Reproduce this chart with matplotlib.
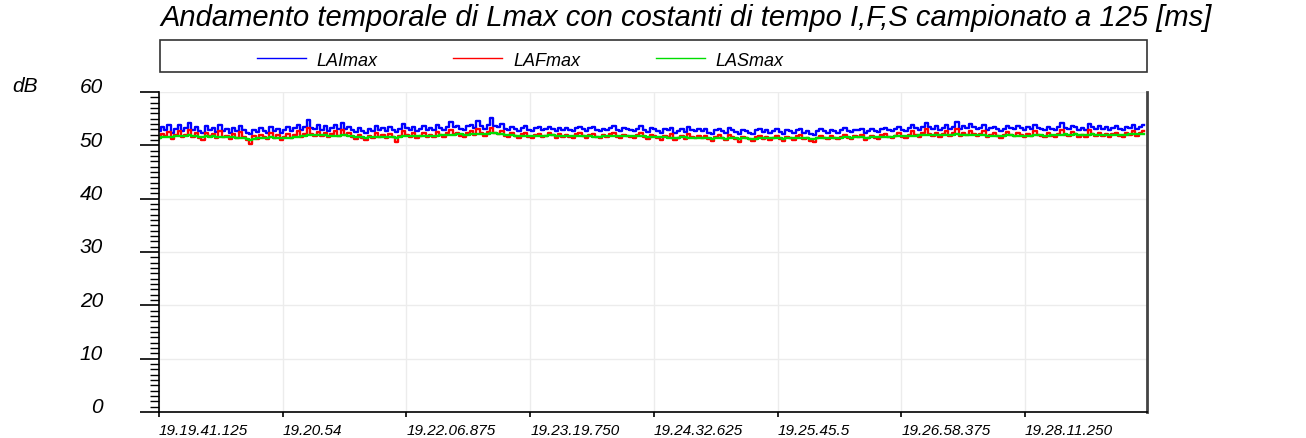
import numpy as np
import matplotlib as mpl
mpl.use('Agg')
import matplotlib.pyplot as plt
import matplotlib.transforms as mtransforms
from matplotlib.patches import Rectangle
from matplotlib.lines import Line2D

plt.rcParams['font.family'] = ['Liberation Sans', 'DejaVu Sans']

TITLE = 'Andamento temporale di Lmax con costanti di tempo I,F,S campionato a 125 [ms]'
series_names = ['LAImax', 'LAFmax', 'LASmax']
series_colors = ['#0000ff', '#ff0000', '#00dd00']

# sample step (s) of the values below
step_s = 2.0

lai_max = [
    52.6, 53.4, 52.9, 53.8, 52.4, 53.1, 53.9, 52.7, 53.2, 54.1, 52.8, 53.5, 52.6, 52.3, 53.6, 52.9, 53.3, 52.5, 53.8, 52.7,
    53.0, 52.4, 53.3, 52.6, 53.7, 52.8, 52.3, 52.1, 52.9, 52.5, 53.2, 52.7, 52.4, 53.5, 52.6, 53.1, 52.3, 52.8, 53.4, 52.6,
    53.2, 53.9, 52.8, 53.4, 54.7, 53.3, 53.0, 53.8, 52.9, 53.6, 52.7, 53.3, 53.9, 53.0, 54.2, 53.1, 53.5, 52.8, 52.5, 53.2,
    52.7, 52.3, 53.0, 52.6, 53.7, 52.9, 53.2, 52.6, 53.4, 52.8, 52.5, 53.1, 54.0, 53.2, 52.9, 53.5, 52.6, 53.0, 53.6, 52.8,
    53.3, 52.9, 53.9, 53.2, 52.8, 53.5, 54.3, 53.4, 53.7, 53.0, 52.9, 53.6, 53.9, 53.2, 54.5, 53.6, 53.1, 53.8, 55.1, 53.7,
    53.4, 54.0, 53.1, 52.8, 53.5, 53.0, 52.7, 53.3, 53.6, 52.9, 52.6, 53.2, 53.4, 52.8, 53.0, 53.5, 53.1, 52.7, 53.3, 52.9,
    53.2, 52.8, 52.6, 53.3, 53.5, 53.0, 52.7, 53.2, 53.4, 52.9, 52.6, 53.1, 52.8, 53.3, 53.6, 52.9, 52.7, 53.2, 53.0, 52.8,
    52.7, 53.1, 53.6, 52.9, 52.5, 53.2, 53.0, 52.6, 52.4, 53.1, 52.8, 53.3, 52.3, 52.7, 53.0, 52.5, 53.4, 52.8, 52.6, 53.0,
    52.7, 53.0, 52.4, 52.2, 52.8, 53.1, 52.6, 52.3, 53.2, 52.9, 52.5, 52.2, 52.9, 52.6, 52.4, 52.1, 52.8, 53.0, 52.5, 52.9,
    52.3, 52.7, 53.0, 52.5, 52.2, 52.8, 52.6, 52.3, 52.9, 53.1, 52.4, 52.7, 52.2, 52.0, 52.6, 53.0, 52.7, 52.4, 52.9, 52.6,
    52.4, 52.8, 53.2, 52.7, 52.5, 52.9, 52.8, 53.1, 52.3, 52.6, 53.0, 52.7, 52.5, 53.1, 53.3, 52.8, 52.6, 53.0, 53.5, 52.9,
    52.7, 53.2, 53.8, 53.3, 52.9, 53.5, 54.2, 53.4, 53.1, 53.6, 52.9, 53.3, 53.8, 53.1, 53.5, 54.3, 53.0, 53.6, 53.2, 54.0,
    53.5, 53.0, 53.3, 53.8, 52.9, 53.2, 53.5, 53.0, 52.7, 53.1, 53.7, 53.2, 53.0, 53.6, 53.3, 52.9, 53.4, 53.1, 53.8, 53.2,
    53.0, 52.8, 53.5, 53.1, 52.9, 53.4, 54.1, 53.3, 53.0, 53.7, 53.4, 52.9, 53.2, 52.8, 54.0, 53.5, 53.1, 53.6, 53.0, 53.4,
    52.9, 53.3, 53.6, 53.0, 52.8, 53.5, 53.2, 53.8, 53.1, 53.5, 53.9,
]
laf_max = [
    51.3, 52.1, 51.7, 52.5, 51.2, 51.9, 52.7, 51.5, 52.0, 52.9, 51.6, 52.3, 51.4, 51.0, 52.4, 51.7, 52.1, 51.3, 52.6, 51.5,
    51.8, 51.1, 52.2, 51.4, 52.5, 51.6, 51.0, 50.3, 51.7, 51.2, 52.0, 51.5, 51.1, 52.3, 51.3, 51.9, 51.0, 51.6, 52.2, 51.4,
    52.0, 52.6, 51.6, 52.2, 53.2, 52.1, 51.8, 52.5, 51.7, 52.4, 51.5, 52.1, 52.7, 51.8, 52.9, 51.9, 52.3, 51.5, 51.2, 51.9,
    51.4, 51.0, 51.8, 51.3, 52.4, 51.6, 52.0, 51.3, 52.2, 51.5, 50.6, 51.8, 52.6, 51.9, 51.6, 52.3, 51.3, 51.8, 52.4, 51.5,
    52.0, 51.6, 52.5, 51.9, 51.5, 52.3, 52.9, 52.1, 52.4, 51.7, 51.6, 52.3, 52.6, 51.9, 53.0, 52.3, 51.8, 52.5, 53.3, 52.4,
    52.1, 52.6, 51.8, 51.5, 52.3, 51.7, 51.4, 52.1, 52.4, 51.6, 51.3, 51.9, 52.2, 51.5, 51.8, 52.3, 51.9, 51.4, 52.1, 51.6,
    52.0, 51.5, 51.3, 52.1, 52.3, 51.7, 51.4, 52.0, 52.2, 51.6, 51.3, 51.9, 51.5, 52.1, 52.4, 51.6, 51.4, 52.0, 51.8, 51.5,
    51.4, 51.9, 52.3, 51.6, 51.2, 52.0, 51.7, 51.3, 51.0, 51.8, 51.5, 52.1, 51.0, 51.4, 51.8, 51.2, 52.1, 51.5, 51.3, 51.7,
    51.4, 51.8, 51.1, 50.8, 51.5, 51.9, 51.3, 51.0, 51.9, 51.6, 51.2, 50.6, 51.6, 51.3, 51.1, 50.9, 51.5, 51.8, 51.2, 51.6,
    51.0, 51.4, 51.8, 51.2, 50.9, 51.6, 51.3, 51.0, 51.7, 51.9, 51.1, 51.4, 50.9, 50.7, 51.3, 51.8, 51.4, 51.1, 51.7, 51.3,
    51.1, 51.5, 51.9, 51.4, 51.2, 51.7, 51.5, 51.9, 51.0, 51.4, 51.8, 51.4, 51.2, 51.9, 52.1, 51.5, 51.3, 51.8, 52.3, 51.6,
    51.4, 52.0, 52.6, 52.0, 51.6, 52.3, 53.0, 52.1, 51.8, 52.4, 51.6, 52.1, 52.6, 51.8, 52.3, 53.1, 51.7, 52.4, 51.9, 52.7,
    52.2, 51.7, 52.1, 52.6, 51.6, 51.9, 52.3, 51.7, 51.4, 51.9, 52.5, 52.0, 51.7, 52.4, 52.0, 51.6, 52.2, 51.8, 52.6, 51.9,
    51.7, 51.5, 52.3, 51.8, 51.6, 52.2, 52.9, 52.0, 51.7, 52.5, 52.1, 51.6, 52.0, 51.5, 52.8, 52.2, 51.8, 52.4, 51.7, 52.1,
    51.6, 52.1, 52.4, 51.8, 51.5, 52.3, 51.9, 52.6, 51.8, 52.3, 52.7,
]
las_max = [
    51.3, 51.5, 51.6, 51.5, 51.6, 51.7, 51.8, 51.7, 51.8, 51.9, 51.8, 51.7, 51.6, 51.5, 51.7, 51.6, 51.7, 51.6, 51.6, 51.5,
    51.6, 51.5, 51.5, 51.4, 51.4, 51.3, 51.2, 51.0, 51.2, 51.3, 51.4, 51.4, 51.4, 51.5, 51.4, 51.4, 51.3, 51.3, 51.4, 51.4,
    51.5, 51.6, 51.7, 51.7, 51.9, 51.9, 52.0, 52.0, 51.9, 51.9, 51.8, 51.8, 51.8, 51.8, 51.9, 51.9, 51.8, 51.7, 51.6, 51.6,
    51.5, 51.4, 51.5, 51.5, 51.6, 51.6, 51.6, 51.5, 51.6, 51.5, 51.4, 51.5, 51.7, 51.7, 51.8, 51.8, 51.7, 51.7, 51.7, 51.7,
    51.7, 51.8, 51.8, 51.9, 51.9, 51.9, 52.0, 52.0, 52.1, 52.1, 52.0, 52.0, 52.1, 52.1, 52.2, 52.2, 52.1, 52.2, 52.3, 52.3,
    52.2, 52.1, 52.0, 51.9, 51.9, 51.8, 51.8, 51.8, 51.7, 51.7, 51.7, 51.8, 51.8, 51.8, 51.8, 51.9, 51.9, 51.8, 51.8, 51.8,
    51.8, 51.7, 51.7, 51.8, 51.8, 51.8, 51.7, 51.7, 51.6, 51.6, 51.6, 51.7, 51.7, 51.8, 51.8, 51.8, 51.7, 51.7, 51.7, 51.7,
    51.7, 51.7, 51.8, 51.7, 51.6, 51.6, 51.6, 51.5, 51.5, 51.5, 51.4, 51.4, 51.4, 51.4, 51.5, 51.5, 51.4, 51.4, 51.4, 51.4,
    51.4, 51.3, 51.3, 51.2, 51.3, 51.3, 51.3, 51.2, 51.3, 51.4, 51.3, 51.2, 51.3, 51.3, 51.2, 51.1, 51.2, 51.3, 51.3, 51.4,
    51.3, 51.3, 51.4, 51.3, 51.2, 51.3, 51.3, 51.3, 51.4, 51.4, 51.3, 51.3, 51.2, 51.2, 51.3, 51.4, 51.4, 51.3, 51.4, 51.4,
    51.4, 51.4, 51.5, 51.5, 51.4, 51.5, 51.5, 51.5, 51.4, 51.4, 51.5, 51.5, 51.5, 51.6, 51.6, 51.6, 51.6, 51.7, 51.7, 51.7,
    51.7, 51.7, 51.8, 51.8, 51.9, 51.9, 52.0, 52.0, 51.9, 51.9, 51.9, 51.9, 52.0, 52.0, 52.0, 52.1, 52.0, 52.0, 52.0, 52.0,
    52.0, 51.9, 51.9, 51.9, 51.8, 51.8, 51.8, 51.8, 51.7, 51.8, 51.9, 51.9, 51.8, 51.8, 51.8, 51.8, 51.8, 51.8, 51.9, 51.9,
    51.9, 51.8, 51.8, 51.9, 51.9, 51.9, 52.0, 52.1, 52.0, 52.0, 52.1, 52.0, 51.9, 51.9, 52.0, 52.1, 52.0, 52.0, 52.0, 52.0,
    51.9, 51.9, 51.9, 52.0, 51.9, 52.0, 52.1, 52.1, 52.1, 52.2, 52.2,
]

# x ticks: seconds from 19.19.41.125
x_tick_pos = [0.0, 72.875, 145.75, 218.625, 291.5, 364.375, 437.25, 510.125]
x_tick_labels = ['19.19.41.125', '19.20.54', '19.22.06.875', '19.23.19.750',
                 '19.24.32.625', '19.25.45.5', '19.26.58.375', '19.28.11.250']
x_end = 582.0
y_ticks = [0, 10, 20, 30, 40, 50, 60]

W, H = 1306, 439
fig = plt.figure(figsize=(W / 100, H / 100), dpi=100)
ax = fig.add_axes([159 / W, 26 / H, 988 / W, 320 / H])

t = np.arange(len(lai_max)) * step_s
for vals, col in zip([lai_max, laf_max, las_max], series_colors):
    ax.plot(t, vals, color=col, lw=1.7, drawstyle='steps-mid')

ax.set_xlim(0, x_end)
ax.set_ylim(0, 60)
ax.set_xticks(x_tick_pos)
ax.set_xticklabels(x_tick_labels, fontsize=11, style='italic', ha='left')
ax.set_yticks(y_ticks)
ax.set_yticklabels([str(v) for v in y_ticks], fontsize=15, style='italic')
ax.set_yticks(np.arange(0, 61, 1), minor=True)
ax.tick_params(axis='x', length=3.8, width=1.2, pad=4)
ax.tick_params(axis='y', which='major', length=13.7, width=1.2, pad=26.5)
ax.tick_params(axis='y', which='minor', length=6.5, width=1.0)
ax.grid(True, which='major', color='#ececec', lw=1)
ax.set_axisbelow(True)

ax.spines['top'].set_visible(False)
ax.spines['right'].set_color('#444444')
ax.spines['right'].set_linewidth(2)
ax.spines['left'].set_linewidth(1.2)
ax.spines['bottom'].set_linewidth(1.2)

offset = mtransforms.ScaledTranslation(0, 7 / 100, fig.dpi_scale_trans)
for lab in ax.get_yticklabels():
    lab.set_transform(lab.get_transform() + offset)

fig.text(12 / W, 1 - 86 / H, 'dB', fontsize=15, style='italic', ha='left', va='center')
fig.text(160 / W, 1 - 18 / H, TITLE, fontsize=21, style='italic', ha='left', va='center')

# legend box
fig.patches.append(Rectangle((160 / W, 1 - 73 / H), 987 / W, 32 / H, transform=fig.transFigure,
                             fill=False, edgecolor='#333333', lw=1.2))
handles = [Line2D([], [], color=c, lw=1) for c in series_colors]
fig.legend(handles, series_names, loc='center left', bbox_to_anchor=(248 / W, 1 - 61 / H),
           ncol=3, frameon=False, borderpad=0,
           prop={'style': 'italic', 'size': 13},
           handlelength=2.7, handletextpad=0.6, columnspacing=4.2)

plt.savefig('out.png', dpi=100)
